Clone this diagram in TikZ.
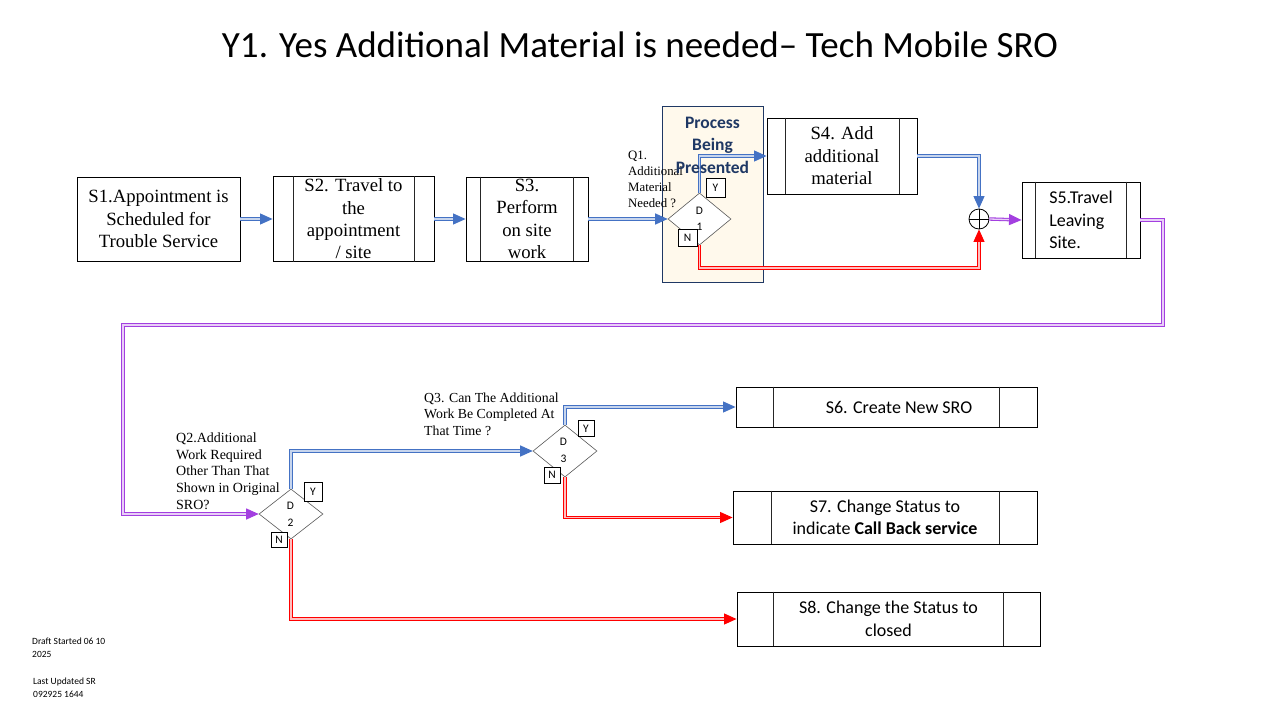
\documentclass[tikz,border=0pt]{standalone}
\usepackage{fontspec}
\setmainfont{Carlito}
\newfontfamily\tnr{Liberation Serif}
\usetikzlibrary{arrows.meta,shapes.geometric,calc}
\definecolor{arrblue}{HTML}{4472C4}
\definecolor{arrred}{HTML}{FF0000}
\definecolor{arrpurp}{HTML}{A33FE0}
\definecolor{navy}{HTML}{1F3864}
\definecolor{cream}{HTML}{FFF9EC}
\newcommand\innerlines[3]{%
  \draw[boxline] ([xshift=#2pt]#1.north west) -- ([xshift=#2pt]#1.south west);
  \draw[boxline] ([xshift=-#3pt]#1.north east) -- ([xshift=-#3pt]#1.south east);}
\begin{document}
\begin{tikzpicture}[x=1pt,y=-1pt,
  box/.style={draw=black, line width=0.9pt, rectangle, inner sep=0pt, align=center},
  boxline/.style={draw=black!85, line width=0.9pt},
  sbox/.style={box, font=\tnr\fontsize{18.7}{22.4}\selectfont},
  cbox/.style={box, font=\fontsize{18}{22.5}\selectfont},
  dec/.style={diamond, draw=black!65, line width=0.6pt, inner sep=0pt, fill=white},
  dlab/.style={font=\fontsize{11.5}{12}\selectfont, inner sep=0pt},
  yn/.style={draw=black, line width=0.7pt, fill=white, inner sep=0pt, font=\fontsize{11.5}{12}\selectfont},
  qtext/.style={anchor=west, align=left, inner sep=0pt},
  conn/.style={line width=1.05pt, double distance=1.3pt, -{Triangle[length=12.5pt,width=11pt]}},
  bl/.style={conn, draw=arrblue, double=arrblue!30},
  rd/.style={conn, draw=arrred, double=arrred!25},
  pu/.style={conn, draw=arrpurp, double=arrpurp!25},
]
\useasboundingbox (0,0) rectangle (1280,720);
\fill[white] (0,0) rectangle (1280,720);

% title
\node (title) at (640,45) {\fontsize{37}{42}\selectfont Y1. Yes Additional Material is needed– Tech Mobile SRO};

% highlight box
\node[draw=navy, line width=0.9pt, fill=cream, minimum width=101pt, minimum height=176pt, inner sep=0pt] (hl) at (712.5,194) {};

% top row
\node[sbox, minimum width=163pt, minimum height=84pt] (S1) at (158.5,219) {S1.Appointment is\\Scheduled for\\Trouble Service};
\node[sbox, minimum width=161pt, minimum height=85pt] (S2) at (353.5,219) {S2. Travel to\\the\\appointment\\/ site};
\innerlines{S2}{21}{20}
\node[sbox, minimum width=122pt, minimum height=84pt] (S3) at (527,219) {S3.\\Perform\\on site\\work};
\innerlines{S3}{15}{15}

\node[dec, minimum width=63pt, minimum height=52pt] (D1) at (699.5,219) {};
\node[dlab] (D1a) at (699.5,211) {D};
\node[dlab] (D1b) at (699.5,227) {1};
\node[yn, minimum width=19pt, minimum height=19pt] (D1y) at (715.5,187.5) {Y};
\node[yn, minimum width=19pt, minimum height=17pt] (D1n) at (687.5,237.5) {N};

\node[qtext, font=\tnr\fontsize{12.8}{16}\selectfont] (Q1) at (628,179) {Q1.\\Additional\\Material\\Needed ?};

\node[sbox, minimum width=150pt, minimum height=76pt] (S4) at (842,156) {S4. Add\\additional\\material};
\innerlines{S4}{19}{18}

\node[circle, draw=black, line width=0.8pt, minimum size=20pt, inner sep=0pt] (J) at (979,219) {};
\draw[line width=0.8pt] (J.north) -- (J.south) (J.west) -- (J.east);

\node[cbox, align=left, minimum width=118pt, minimum height=76pt] (S5) at (1081,220) {S5.Travel\\Leaving\\Site.};
\innerlines{S5}{14}{14}

% bottom decisions
\node[dec, minimum width=64pt, minimum height=50pt] (D2) at (291,514) {};
\node[dlab] (D2a) at (290.5,506) {D};
\node[dlab] (D2b) at (290.5,523) {2};
\node[yn, minimum width=18pt, minimum height=19pt] (D2y) at (313,491.5) {Y};
\node[yn, minimum width=16pt, minimum height=15pt] (D2n) at (279,539.5) {N};
\node[qtext, font=\tnr\fontsize{14}{16.7}\selectfont] (Q2) at (176,471) {Q2.Additional\\Work Required\\Other Than That\\Shown in Original\\SRO?};

\node[dec, minimum width=64pt, minimum height=52pt] (D3) at (565,451) {};
\node[dlab] (D3a) at (563.5,442) {D};
\node[dlab] (D3b) at (563.5,459) {3};
\node[yn, minimum width=16pt, minimum height=16pt] (D3y) at (586,428.5) {Y};
\node[yn, minimum width=16pt, minimum height=16pt] (D3n) at (552,475) {N};
\node[qtext, font=\tnr\fontsize{13.8}{16.5}\selectfont] (Q3) at (424,414) {Q3. Can The Additional\\Work Be Completed At\\That Time ?};

\node[cbox, minimum width=301pt, minimum height=40pt] (S6) at (886.5,407) {\hspace*{25pt}S6. Create New SRO};
\innerlines{S6}{38}{38}
\node[cbox, minimum width=304pt, minimum height=53pt] (S7) at (885,517.5) {S7. Change Status to\\indicate \textbf{Call Back service}};
\innerlines{S7}{39}{38}
\node[cbox, minimum width=303pt, minimum height=54pt] (S8) at (888.5,619) {S8. Change the Status to\\closed};
\innerlines{S8}{37}{37}

% connectors
\draw[bl] (S1.east) -- (S2.west);
\draw[bl] (S2.east) -- (S3.west);
\draw[bl] (S3.east) -- (D1.west);
\draw[bl] (D1.north) |- (S4.west);
\coordinate (n1) at (699.5,268);
\draw[rd] (D1.south) -- (D1.south |- n1) -| (J.south);
\draw[bl] (S4.east) -| (J.north);
\draw[pu] (J.east) -- (S5.west);
\coordinate (r1) at (1163,325);
\coordinate (r2) at (123,514);
\draw[pu] (S5.east) -| (r1) -| (r2) -- (D2.west);
\draw[bl] (D2.north) |- (D3.west);
\draw[rd] (D2.south) |- (S8.west);
\draw[bl] (D3.north) |- (S6.west);
\draw[rd] (D3.south) |- (S7.west);

% redraw Y/N boxes on top of lines
\node[yn, minimum width=19pt, minimum height=19pt] at (D1y) {Y};
\node[yn, minimum width=19pt, minimum height=17pt] at (D1n) {N};

% process label
\node[align=center, text=navy, font=\bfseries\fontsize{17.5}{22.5}\selectfont] (hlt) at (712.5,145) {Process\\Being\\Presented};

% footer
\node[anchor=west, align=left, inner sep=0pt, font=\fontsize{9.5}{13}\selectfont] (f1) at (32,648) {Draft Started 06 10\\2025};
\node[anchor=west, align=left, inner sep=0pt, font=\fontsize{9.5}{13}\selectfont] (f2) at (33,688) {Last Updated SR\\092925 1644};
\end{tikzpicture}
\end{document}
